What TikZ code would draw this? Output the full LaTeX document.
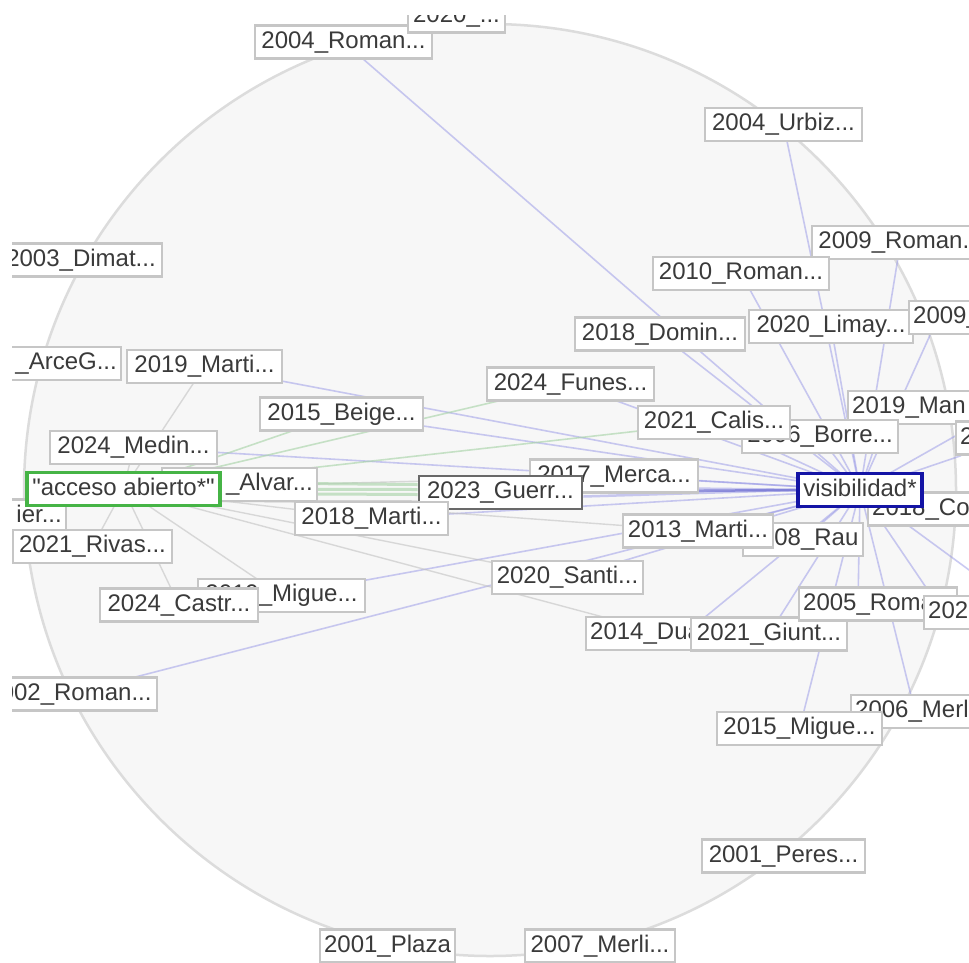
\documentclass[tikz,border=0pt]{standalone}
\usepackage{fontspec}
\setmainfont{Liberation Sans}[Ligatures=TeXOff]
\usetikzlibrary{calc}
\definecolor{boxgray}{RGB}{198,198,198}
\definecolor{txtgray}{RGB}{58,58,58}
\definecolor{circfill}{RGB}{247,247,247}
\definecolor{circline}{RGB}{220,220,220}
\definecolor{edgeblue}{RGB}{150,150,230}
\definecolor{edgegreen}{RGB}{165,210,165}
\definecolor{edgegray}{RGB}{190,190,190}
\definecolor{visblue}{RGB}{20,20,165}
\definecolor{accgreen}{RGB}{70,180,70}
\definecolor{guerrgray}{RGB}{105,105,105}
\newcommand\lblfont{\fontsize{24}{28}\selectfont}
\pgfdeclarelayer{bg}
\pgfsetlayers{bg,main}
\tikzset{
  lbl/.style={draw=boxgray, line width=2.4pt, fill=white, text=txtgray,
    inner xsep=4pt, inner ysep=0pt, minimum height=33pt, font=\lblfont,
    text height=17pt, text depth=4.5pt},
  visbox/.style={lbl, draw=visblue, line width=3.2pt},
  accbox/.style={lbl, draw=accgreen, line width=3.2pt},
  guerrbox/.style={lbl, draw=guerrgray, line width=2.6pt},
  cutr/.style={lbl, anchor=west, align=left},
  cutl/.style={lbl, anchor=east, align=right},
  eblue/.style={draw=edgeblue, line width=1.6pt, opacity=0.5},
  egreen/.style={draw=edgegreen, line width=1.6pt, opacity=0.6},
  egray/.style={draw=edgegray, line width=1.4pt, opacity=0.55},
}
\begin{document}
\begin{tikzpicture}[x=1pt,y=-1pt]
\useasboundingbox (0,0) rectangle (969,962);
\begin{scope}
\clip (12,15) rectangle (969,962);
% nodes
\node[lbl, minimum width=177pt] (n2004R) at (343.5,42) {2004\_Roman...};
\node[lbl, minimum width=97pt] (n2020t) at (456.5,16) {2020\_...};
\node[lbl, minimum width=157pt] (n2004U) at (783.5,124.5) {2004\_Urbiz...};
\node[lbl, minimum width=162pt] (n2003D) at (81,260) {2003\_Dimat...};
\node[lbl, minimum width=177pt] (n2009R) at (900.5,242.5) {2009\_Roman...};
\node[lbl, minimum width=176pt] (n2010R) at (741,273.5) {2010\_Roman...};
\node[lbl, minimum width=170pt] (n2018D) at (660,334) {2018\_Domin...};
\node[lbl, minimum width=164pt] (n2020L) at (831,326.5) {2020\_Limay...};
\node[cutr, text width=90pt] (n2009b) at (908,317.5) {2009\_};
\node[cutr, text width=150pt] (n2019M) at (847,407.5) {2019\_Man};
\node[cutr, text width=60pt] (n2x) at (955,438) {2};
\node[lbl, minimum width=167pt] (n2024F) at (570.5,384) {2024\_Funes...};
\node[lbl, minimum width=156pt] (n2006B) at (820,436.5) {2006\_Borre...};
\node[lbl, minimum width=152pt] (n2021C) at (714,422.5) {2021\_Calis...};
\node[cutr, text width=150pt] (n2018C) at (867,509) {2018\_Co};
\node[visbox, minimum width=124pt] (vis) at (860,490) {visibilidad*};
\node[lbl, minimum width=120pt] (n2008) at (803,539.5) {2008\_Rau};
\node[lbl, minimum width=150pt] (n2013M) at (698,531) {2013\_Marti...};
\node[lbl, minimum width=168pt] (n2017M) at (614,476) {2017\_Merca...};
\node[guerrbox, minimum width=163pt] (n2023G) at (500.5,492.5) {2023\_Guerr...};
\node[lbl, minimum width=153pt] (n2018M) at (371.5,518.5) {2018\_Marti...};
\node[cutl, text width=147pt] (nAlvar) at (318,484.5) {\_Alvar...};
\node[cutl, text width=110pt] (nier) at (67,516) {ier...};
\node[accbox, minimum width=193pt] (acceso) at (123.5,489) {"acceso abierto*"};
\node[lbl, minimum width=167pt] (n2024Me) at (133.5,447.5) {2024\_Medin...};
\node[lbl, minimum width=163pt] (n2015B) at (341.5,414) {2015\_Beige...};
\node[cutl, text width=150pt] (nArce) at (122,363.5) {\_ArceG...};
\node[lbl, minimum width=155pt] (n2019Ma) at (204.5,366.5) {2019\_Marti...};
\node[lbl, minimum width=159pt] (n2021R) at (92.5,546.5) {2021\_Rivas...};
\node[lbl, minimum width=167pt] (n2019Mi) at (281.5,595.5) {2019\_Migue...};
\node[lbl, minimum width=158pt] (n2024Ca) at (179,605) {2024\_Castr...};
\node[lbl, minimum width=175pt] (n2002R) at (69.5,694) {2002\_Roman...};
\node[lbl, minimum width=151pt] (n2020S) at (567.5,577.5) {2020\_Santi...};
\node[cutr, text width=140pt] (n2014D) at (585,633.5) {2014\_Dua};
\node[lbl, minimum width=156pt] (n2021Gi) at (769,634) {2021\_Giunt...};
\node[cutr, text width=150pt] (n2005R) at (798,604) {2005\_Roma};
\node[cutr, text width=80pt] (n202) at (923,612.5) {202};
\node[cutr, text width=150pt] (n2006Me) at (850,711.5) {2006\_Merl};
\node[lbl, minimum width=165pt] (n2015Mi) at (799.5,728.5) {2015\_Migue...};
\node[lbl, minimum width=163pt] (n2001P) at (783.5,856) {2001\_Peres...};
\node[lbl, minimum width=150pt] (n2007M) at (600,946) {2007\_Merli...};
\node[lbl, minimum width=135pt] (n2001Pl) at (387.5,946) {2001\_Plaza};
\coordinate (offA) at (1010,405);
\coordinate (offB) at (1010,600);
\end{scope}
\begin{pgfonlayer}{bg}
\clip (12,15) rectangle (969,962);
\fill[white] (0,0) rectangle (969,962);
\filldraw[fill=circfill, draw=circline, line width=2.5pt] (490,490) circle[radius=466];
% edges from visibilidad*
\foreach \t in {n2004R,n2004U,n2009R,n2010R,n2018D,n2020L,n2024F,n2006B,n2021C,
  n2017M,n2008,n2013M,n2018M,n2015B,n2019Ma,n2024Me,n2020S,n2021Gi,n2015Mi,
  n2002R,n2019Mi,offA,offB}
  \draw[eblue] (vis.center) -- (\t.center);
\draw[eblue] (vis.center) -- ($(n2009b.south west)+(22,0)$);
\draw[eblue] (vis.center) -- ($(n2019M.south west)+(35,0)$);
\draw[eblue] (vis.center) -- ($(n2x.south west)+(6,0)$);
\draw[eblue] (vis.center) -- ($(n2018C.west)+(45,0)$);
\draw[eblue] (vis.center) -- ($(n2014D.west)+(100,0)$);
\draw[eblue] (vis.center) -- ($(n2005R.west)+(60,0)$);
\draw[eblue] (vis.center) -- ($(n202.west)+(20,0)$);
\draw[eblue] (vis.center) -- ($(n2006Me.west)+(65,0)$);
% edges from "acceso abierto*"
\foreach \t in {n2019Ma,n2024Me,n2018M,n2013M,n2020S,n2021R,n2024Ca,n2019Mi,n2017M}
  \draw[egray] (acceso.center) -- (\t.center);
\draw[egray] (acceso.center) -- ($(n2014D.west)+(80,0)$);
\foreach \t in {n2015B,n2024F,n2021C}
  \draw[egreen] (acceso.center) -- (\t.center);
% strong bundle
\draw[egreen, line width=3pt] ($(acceso.center)+(0,-7)$) -- ($(n2023G.west)+(0,-8)$);
\draw[egreen, line width=3pt] (acceso.center) -- ($(n2023G.west)+(0,-3)$);
\draw[egreen, line width=3pt] ($(acceso.center)+(0,4)$) -- ($(n2023G.west)+(0,2)$);
\draw[edgegray, line width=2pt] ($(acceso.center)+(0,12)$) -- ($(n2023G.west)+(0,9)$);
\draw[eblue, line width=3pt] ($(n2023G.east)+(0,-5)$) -- (vis.west);
\draw[eblue, line width=2.5pt] ($(n2023G.east)+(0,4)$) -- (vis.west);
\draw[draw=edgeblue!70!visblue, line width=2.5pt, opacity=0.7] ($(n2017M.south west)+(55,-2)$) -- ($(vis.west)+(0,0)$);
\end{pgfonlayer}
\end{tikzpicture}
\end{document}
